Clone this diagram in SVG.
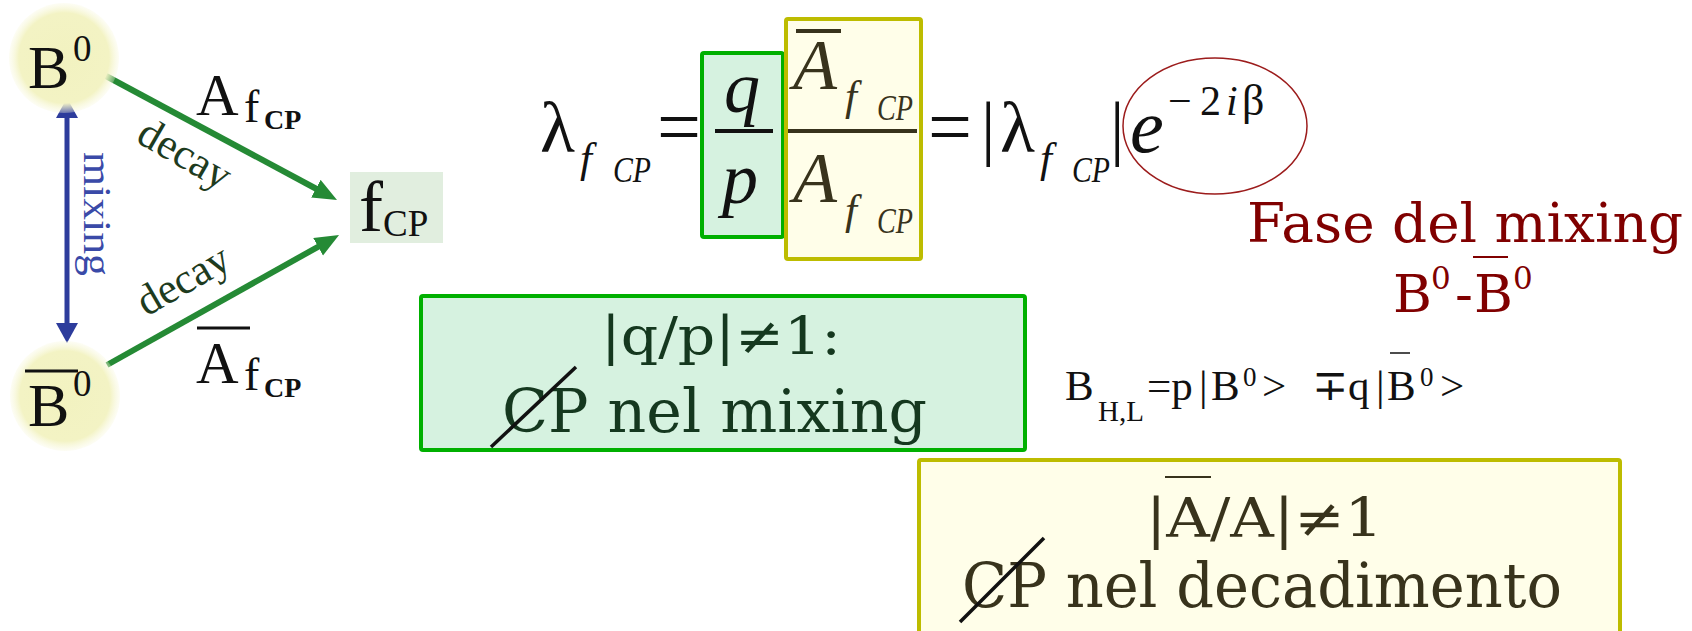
<svg xmlns="http://www.w3.org/2000/svg" width="1692" height="631" viewBox="0 0 1692 631">
<defs>
<radialGradient id="gy" cx="0.5" cy="0.5" r="0.5">
<stop offset="0" stop-color="#f2f2c0"/>
<stop offset="0.82" stop-color="#f3f3c4"/>
<stop offset="1" stop-color="#f8f8dc" stop-opacity="0.3"/>
</radialGradient>
<marker id="ag" markerUnits="userSpaceOnUse" markerWidth="26" markerHeight="22" refX="4" refY="10" orient="auto"><path d="M0,0 L24,10 L0,20 z" fill="#258a35"/></marker>
<marker id="ab" markerUnits="userSpaceOnUse" markerWidth="22" markerHeight="24" refX="2" refY="11" orient="auto-start-reverse"><path d="M0,0 L20,11 L0,22 z" fill="#2d3c9c"/></marker>
<style>
.tm{font-family:"Liberation Serif","DejaVu Serif",serif;fill:#111}
.it{font-style:italic}
.ol{stroke:#111;stroke-width:3}
.tw{font-family:"DejaVu Serif","Liberation Serif",serif}
.red{fill:#800000}
.dg{fill:#15381f}
.dy{fill:#38331c}
.strk{stroke:#111;stroke-width:3.5}
</style>
</defs>
<rect width="1692" height="631" fill="#ffffff"/>

<g id="connectors">
<line x1="106" y1="76" x2="319.4" y2="190.5" stroke="#258a35" stroke-width="6" marker-end="url(#ag)"/>
<line x1="107" y1="365" x2="321.6" y2="244.8" stroke="#258a35" stroke-width="6" marker-end="url(#ag)"/>
<line x1="67" y1="116" x2="67" y2="325" stroke="#2d3c9c" stroke-width="5" marker-start="url(#ab)" marker-end="url(#ab)"/>
<text class="tm" font-size="41" style="fill:#3a4aa8" transform="translate(84,214) rotate(90)" text-anchor="middle" textLength="124" lengthAdjust="spacingAndGlyphs">mixing</text>
<text class="tm" font-size="43" style="fill:#1e3b1e" transform="translate(178,166) rotate(30)" text-anchor="middle">decay</text>
<text class="tm" font-size="43" style="fill:#1e3b1e" transform="translate(190,292) rotate(-30)" text-anchor="middle">decay</text>
<text class="tm" font-size="59" x="196" y="115">A<tspan font-size="46" x="244" y="122">f</tspan><tspan font-size="28" font-weight="bold" x="264" y="129">CP</tspan></text>
<line class="ol" x1="197" y1="328" x2="250" y2="328"/>
<text class="tm" font-size="59" x="196" y="383">A<tspan font-size="46" x="244" y="390">f</tspan><tspan font-size="28" font-weight="bold" x="264" y="397">CP</tspan></text>
</g>

<g id="B0">
<circle cx="64" cy="58" r="55" fill="url(#gy)"/>
<text class="tm" font-size="62" x="28" y="88">B<tspan font-size="37" x="73" y="61">0</tspan></text>
</g>

<g id="B0bar">
<circle cx="65" cy="396" r="55" fill="url(#gy)"/>
<line class="ol" x1="25" y1="371" x2="78" y2="371"/>
<text class="tm" font-size="62" x="28" y="426">B<tspan font-size="37" x="73" y="396">0</tspan></text>
</g>

<g id="fCP">
<rect x="350" y="172" width="93" height="71" fill="#e1eedf"/>
<text class="tm" font-size="72" x="359" y="231">f<tspan font-size="37" x="383" y="236">CP</tspan></text>
</g>

<g id="equation">
<text class="tm" font-size="72" x="540" y="152">λ</text>
<text class="tm it" font-size="43" x="580" y="172">f</text>
<text class="tm it" font-size="35" x="613" y="182" textLength="38" lengthAdjust="spacingAndGlyphs">CP</text>
<text class="tm" font-size="78" x="657" y="153">=</text>
<rect x="702" y="53" width="81" height="184" rx="2" fill="#d6f2e0" stroke="#00b000" stroke-width="4"/>
<rect x="786" y="19" width="135" height="240" rx="2" fill="#fffee9" stroke="#bdbc00" stroke-width="4"/>
<text class="tm it" font-size="72" x="724" y="112">q</text>
<line x1="715" y1="131" x2="773" y2="131" stroke="#111" stroke-width="4"/>
<text class="tm it" font-size="72" x="722" y="203">p</text>
<line x1="796" y1="31" x2="841" y2="31" stroke="#38331c" stroke-width="4"/>
<text class="tm it" font-size="72" x="793" y="89" style="fill:#38331c">A</text>
<text class="tm it" font-size="43" x="845" y="110" style="fill:#38331c">f</text>
<text class="tm it" font-size="35" x="877" y="120" style="fill:#38331c" textLength="36" lengthAdjust="spacingAndGlyphs">CP</text>
<line x1="788" y1="131" x2="917" y2="131" stroke="#38331c" stroke-width="4"/>
<text class="tm it" font-size="72" x="793" y="202" style="fill:#38331c">A</text>
<text class="tm it" font-size="43" x="845" y="224" style="fill:#38331c">f</text>
<text class="tm it" font-size="35" x="877" y="233" style="fill:#38331c" textLength="36" lengthAdjust="spacingAndGlyphs">CP</text>
<text class="tm" font-size="78" x="928" y="153">=</text>
<text class="tm" font-size="72" x="981" y="152">|</text>
<text class="tm" font-size="72" x="1000" y="152">λ</text>
<text class="tm it" font-size="43" x="1040" y="172">f</text>
<text class="tm it" font-size="35" x="1072" y="182" textLength="38" lengthAdjust="spacingAndGlyphs">CP</text>
<text class="tm" font-size="72" x="1110" y="152">|</text>
<text class="tm it" font-size="76" x="1130" y="152">e</text>
<text class="tm" font-size="42" x="1168" y="115">−</text>
<text class="tm" font-size="42" x="1200" y="115">2</text>
<text class="tm it" font-size="42" x="1226" y="115">i</text>
<text class="tm" font-size="44" x="1242" y="115">β</text>
</g>

<g id="phase">
<ellipse cx="1215" cy="126" rx="92" ry="68" fill="none" stroke="#9c1c1c" stroke-width="1.5"/>
<text class="tw red" font-size="54" x="1247" y="242" textLength="436" lengthAdjust="spacingAndGlyphs">Fase del mixing</text>
<text class="tw red" font-size="53" x="1393" y="312">B</text>
<text class="tw red" font-size="31" x="1431" y="289">0</text>
<text class="tw red" font-size="53" x="1455" y="312">-</text>
<line x1="1473" y1="257" x2="1508" y2="257" stroke="#800000" stroke-width="2"/>
<text class="tw red" font-size="53" x="1474" y="312">B</text>
<text class="tw red" font-size="31" x="1513" y="289">0</text>
</g>

<g id="mixingCP">
<rect x="421" y="296" width="604" height="154" rx="2" fill="#d6f2e0" stroke="#00b000" stroke-width="4"/>
<text class="tw dg" font-size="52" x="601" y="354" textLength="240" lengthAdjust="spacingAndGlyphs">|q/p|≠1:</text>
<text class="tw dg" font-size="60" x="502" y="432" textLength="425" lengthAdjust="spacingAndGlyphs">CP nel mixing</text>
<line class="strk" x1="491" y1="447" x2="576" y2="367"/>
</g>

<g id="states">
<text class="tm" font-size="43" x="1065" y="400">B</text>
<text class="tm" font-size="29" x="1098" y="421">H,L</text>
<text class="tm" font-size="43" x="1147" y="400">=p</text>
<text class="tm" font-size="43" x="1199" y="400">|</text>
<text class="tm" font-size="43" x="1211" y="400">B</text>
<text class="tm" font-size="27" x="1243" y="386">0</text>
<text class="tm" font-size="43" x="1262" y="400">&gt;</text>
<text class="tm" font-size="43" x="1312" y="400">∓</text>
<text class="tm" font-size="43" x="1348" y="400">q</text>
<text class="tm" font-size="43" x="1376" y="400">|</text>
<line x1="1390" y1="353" x2="1410" y2="353" stroke="#111" stroke-width="1.5"/>
<text class="tm" font-size="43" x="1387" y="400">B</text>
<text class="tm" font-size="27" x="1420" y="386">0</text>
<text class="tm" font-size="43" x="1440" y="400">&gt;</text>
</g>

<g id="decayCP">
<rect x="919" y="460" width="701" height="185" rx="2" fill="#fffee9" stroke="#bdbc00" stroke-width="4"/>
<line x1="1165" y1="477" x2="1211" y2="477" stroke="#38331c" stroke-width="2"/>
<text class="tw dy" font-size="54" x="1146" y="537" textLength="237" lengthAdjust="spacingAndGlyphs">|A/A|≠1</text>
<text class="tw dy" font-size="62" x="962" y="607" textLength="600" lengthAdjust="spacingAndGlyphs">CP nel decadimento</text>
<line class="strk" x1="960" y1="622" x2="1044" y2="538"/>
</g>
</svg>
